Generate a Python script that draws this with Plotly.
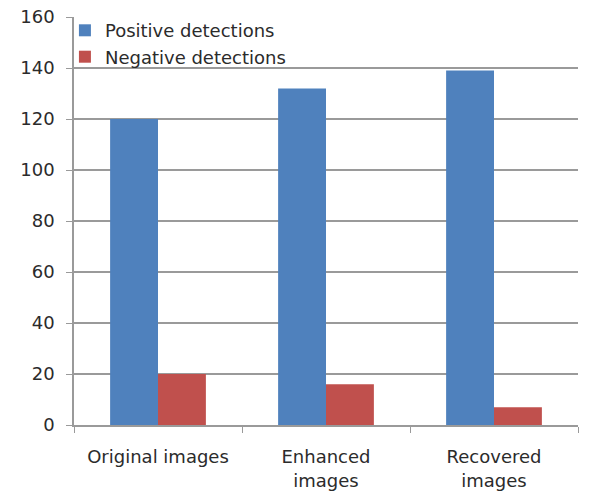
import plotly.graph_objects as go

categories = ["Original images", "Enhanced<br>images", "Recovered<br>images"]
positive = [120, 132, 139]
negative = [20, 16, 7]
y_ticks = [0, 20, 40, 60, 80, 100, 120, 140, 160]

fig = go.Figure()
fig.add_trace(go.Bar(name="Positive detections", x=categories, y=positive,
                     marker=dict(color="#4F81BD", line=dict(width=0))))
fig.add_trace(go.Bar(name="Negative detections", x=categories, y=negative,
                     marker=dict(color="#C0504D", line=dict(width=0))))

fig.update_layout(
    width=602, height=500,
    margin=dict(l=74, r=24, t=17, b=75),
    paper_bgcolor="white", plot_bgcolor="white",
    font=dict(family="DejaVu Sans, sans-serif", size=18, color="#2b2b2b"),
    barmode="group", bargap=0.43, bargroupgap=0,
    legend=dict(x=-0.018, y=1.012, xanchor="left", yanchor="top",
                bgcolor="rgba(0,0,0,0)", font=dict(size=18),
                itemwidth=30, tracegroupgap=0),
    xaxis=dict(type="category", showgrid=False, showline=True, linecolor="#9a9a9a",
               linewidth=1.5, ticks="outside", tickson="boundaries", ticklen=6,
               tickcolor="#9a9a9a", ticklabelstandoff=15, automargin=False),
    yaxis=dict(range=[0, 160], tickvals=y_ticks, showgrid=True, gridcolor="#9a9a9a",
               gridwidth=1.5, showline=True, linecolor="#9a9a9a", linewidth=1.5,
               ticks="outside", ticklen=6, tickcolor="#9a9a9a", zeroline=False,
               ticklabelstandoff=8, automargin=False),
    showlegend=True,
)

fig.write_html("out.html")
